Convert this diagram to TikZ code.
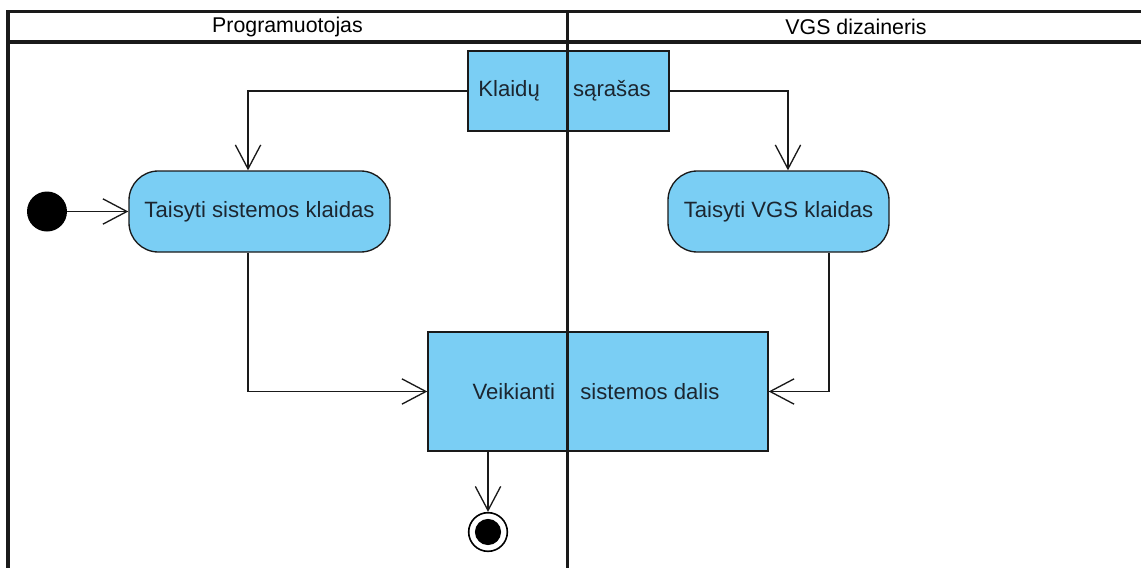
\documentclass[tikz,border=0pt]{standalone}
\usepackage{fontspec}
\setmainfont{Liberation Sans}
\usetikzlibrary{arrows.meta,positioning}

\definecolor{actfill}{HTML}{7ACEF4}
\definecolor{inkline}{HTML}{1A1A1A}
\definecolor{inktext}{HTML}{1C2630}

\tikzset{
  lane/.style={line width=2.4pt, draw=inkline},
  flow/.style={line width=1pt, draw=inkline,
    -{Straight Barb[length=18pt,width=19pt,line width=1pt]}},
  action/.style={draw=inkline, line width=1pt, fill=actfill, rounded corners=22pt,
    minimum height=60.75pt, inner sep=0pt, text=inktext, font=\fontsize{16.6}{19}\selectfont},
  objbox/.style={draw=inkline, line width=1pt, fill=actfill, rectangle,
    inner sep=0pt, text=inktext, font=\fontsize{16.6}{19}\selectfont},
  startdot/.style={circle, fill=black, minimum size=30pt, inner sep=0pt},
  enddot/.style={circle, draw=black, line width=1.2pt, fill=white, minimum size=29pt,
    inner sep=0pt, path picture={\fill[black] (path picture bounding box.center) circle (9.8pt);}},
  headtext/.style={font=\fontsize{16}{19}\selectfont, inner sep=0pt}
}

\begin{document}
\begin{tikzpicture}[x=0.75pt, y=-0.75pt]
  \useasboundingbox (0,0) rectangle (1141,567);

  % swimlane headers
  \node[headtext] (h1) at (287.5,27) {Programuotojas};
  \node[headtext] (h2) at (856,27) {VGS dizaineris};

  % object and action nodes
  \node[objbox, minimum width=150.75pt, minimum height=60pt] (list) at (568.5,91)
    {\hspace{-6pt}Klaidų\hspace{25pt}sąrašas};
  \node[action, minimum width=195.75pt] (fix1) at (259.5,211.5) {Taisyti sistemos klaidas};
  \node[action, minimum width=165.75pt] (fix2) at (778.5,211.5) {Taisyti VGS klaidas};
  \node[objbox, minimum width=255pt, minimum height=89.25pt] (work) at (598,391.5)
    {\hspace{-3pt}Veikianti\hspace{19pt}sistemos dalis};
  \node[startdot] (init) at (47,211.5) {};
  \node[enddot] (final) at (488,532) {};

  % control and object flows
  \draw[flow] (init) -- (fix1);
  \draw[flow] (list.west) -| ([xshift=-8.6pt]fix1.north);
  \draw[flow] (list.east) -| ([xshift=7.1pt]fix2.north);
  \draw[flow] ([xshift=-8.6pt]fix1.south) |- (work.west);
  \draw[flow] ([xshift=37.9pt]fix2.south) |- (work.east);
  \draw[flow] ([xshift=-82.5pt]work.south) -- (final.north);

  % swimlane frame, drawn over the nodes
  \draw[lane] (8,11.5) -- (1145,11.5);
  \draw[lane] (8,42) -- (1145,42);
  \draw[lane] (8,10.3) -- (8,570);
  \draw[lane] (567.5,10.3) -- (567.5,570);
\end{tikzpicture}
\end{document}
